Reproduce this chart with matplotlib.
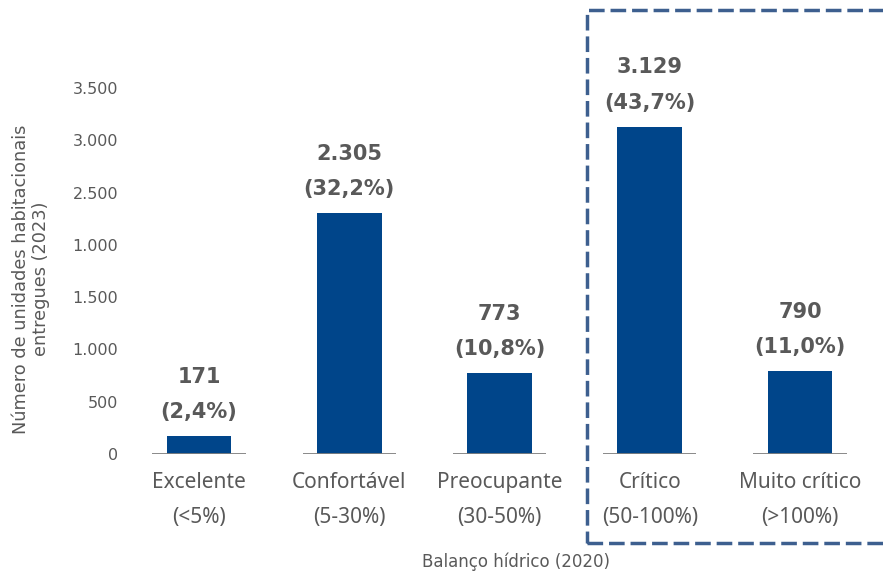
import matplotlib.pyplot as plt
from matplotlib.patches import Rectangle

# Data
categorias = ["Excelente\n(<5%)", "Confortável\n(5-30%)", "Preocupante\n(30-50%)",
              "Crítico\n(50-100%)", "Muito crítico\n(>100%)"]
unidades = [171, 2305, 773, 3129, 790]
rotulos = ["171\n(2,4%)", "2.305\n(32,2%)", "773\n(10,8%)", "3.129\n(43,7%)", "790\n(11,0%)"]
yticks = [0, 500, 1000, 1500, 2000, 2500, 3000, 3500]
ytick_labels = ["0", "500", "1.000", "1.500", "1.000", "2.500", "3.000", "3.500"]

azul = '#00458a'
cinza = '#595959'

fig = plt.figure(figsize=(8.83, 5.71), dpi=100)
W, H = 883, 571
ax = fig.add_axes([132 / W, (H - 454) / H, (883 - 132) / W, (454 - 10) / H])

x = list(range(len(unidades)))
ax.bar(x, unidades, width=0.43, color=azul, zorder=2)
ax.hlines([0] * len(x), [i - 0.31 for i in x], [i + 0.31 for i in x],
          color='#808080', lw=1.3, zorder=3)

for i, (v, r) in enumerate(zip(unidades, rotulos)):
    ax.annotate(r, (i, v), xytext=(0, 10), textcoords='offset points',
                ha='center', va='bottom', fontsize=15, fontweight='bold',
                color=cinza, linespacing=1.97, family='DejaVu Sans')

ax.set_xlim(-0.446, 4.552)
ax.set_ylim(0, (454 - 10) / ((454 - 88) / 3500))
ax.set_yticks(yticks)
ax.set_yticklabels(ytick_labels, fontsize=11.5, color=cinza)
ax.set_xticks(x)
ax.set_xticklabels(categorias, fontsize=15, color=cinza, linespacing=1.86, family='Noto Sans')
ax.tick_params(axis='y', length=0, pad=10)
ax.tick_params(axis='x', length=0, pad=13)
for s in ax.spines.values():
    s.set_visible(False)

fig.text(31 / W, 1 - 279 / H, "Número de unidades habitacionais\nentregues (2023)",
         rotation=90, ha='center', va='center', fontsize=12.8, color=cinza, linespacing=1.2)
fig.text(516 / W, 1 - 562 / H, "Balanço hídrico (2020)", ha='center', va='center',
         fontsize=12, color=cinza)

# caixa tracejada
box = Rectangle((587 / W, 1 - 543 / H), (900 - 587) / W, (543 - 10) / H,
                transform=fig.transFigure, fill=False, edgecolor='#3d5f8f',
                lw=2.5, linestyle=(0, (4.5, 1.7)), clip_on=False)
fig.patches.append(box)

fig.savefig('out.png', dpi=100)
